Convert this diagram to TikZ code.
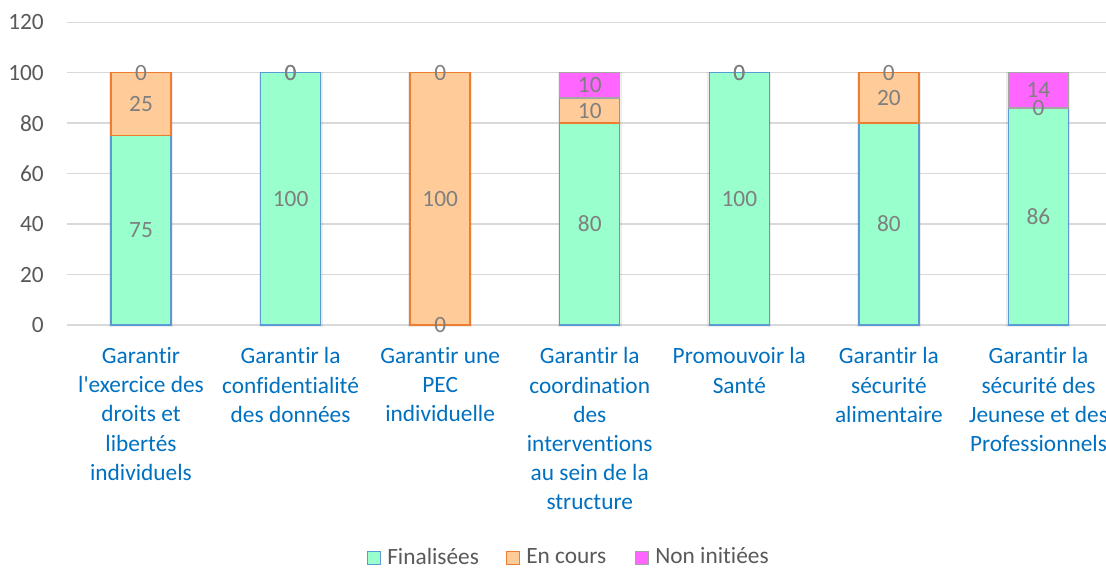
\documentclass[tikz,border=0pt]{standalone}
\usepackage{fontspec}
\setmainfont{Carlito}[Ligatures={TeXOff,CommonOff}]
\definecolor{gridc}{HTML}{D9D9D9}
\definecolor{axc}{HTML}{595959}
\definecolor{valc}{HTML}{7F7F7F}
\definecolor{catc}{HTML}{0070C0}
\definecolor{finF}{HTML}{99FFCC}
\definecolor{finD}{HTML}{5B9BD5}
\definecolor{encF}{HTML}{FFCC99}
\definecolor{encD}{HTML}{ED7D31}
\definecolor{nonF}{HTML}{FF66FF}
\definecolor{nonD}{HTML}{A5A5A5}
\tikzset{
  gridline/.style={draw=gridc, line width=1.1pt},
  axlabel/.style={text=axc, anchor=east, inner sep=0pt, font=\fontsize{17.5}{21}\selectfont},
  vallabel/.style={text=valc, inner sep=0pt, font=\fontsize{17.5}{21}\selectfont},
  catlabel/.style={text=catc, anchor=north, align=center, inner sep=0pt, font=\fontsize{17.5}{21.8}\selectfont},
  finbar/.style={fill=finF, draw=finD, line width=1pt},
  encbar/.style={fill=encF, draw=encD, line width=1pt},
  nonbar/.style={fill=nonF, draw=nonD, line width=1pt},
  legtext/.style={text=axc, anchor=west, inner sep=0pt, font=\fontsize{17.5}{21}\selectfont},
  legsq/.style={minimum size=9.5pt, inner sep=0pt, line width=0.9pt},
  barshadow/.style={fill=black, opacity=0.07},
}
\begin{document}
\begin{tikzpicture}[x=0.75pt,y=-0.75pt]
\useasboundingbox (0,0) rectangle (1106,570);
% grid and axis labels
\begin{scope}[shift={(0,325)}, y=1.89225pt]
\foreach \v in {0,20,...,120} {
  \draw[gridline] (67,\v) -- (1106,\v);
  \node[axlabel] (ax\v) at (44,\v) {\v};
}
\foreach \i/\f/\e/\n in {1/75/25/0, 2/100/0/0, 3/0/100/0, 4/80/10/10, 5/100/0/0, 6/80/20/0, 7/86/0/14} {
  \pgfmathsetmacro\cx{141+149.58*(\i-1)}
  \pgfmathsetmacro\fe{\f+\e}
  \pgfmathsetmacro\fen{\f+\e+\n}
  \fill[barshadow] (\cx-32,-0.9) rectangle (\cx+32,\fen+0.4);
  \ifnum\f>0 \draw[finbar] (\cx-30,0) rectangle (\cx+30,\f); \fi
  \ifnum\e>0 \draw[encbar] (\cx-30,\f) rectangle (\cx+30,\fe); \fi
  \ifnum\n>0 \draw[nonbar] (\cx-30,\fe) rectangle (\cx+30,\fen); \fi
  \node[vallabel] (vf\i) at (\cx,\f/2) {\f};
  \node[vallabel] (ve\i) at (\cx,\f+\e/2) {\e};
  \node[vallabel] (vn\i) at (\cx,\fe+\n/2) {\n};
}
\end{scope}
% category labels
\node[catlabel] (c1) at (141,347.5) {Garantir\\l'exercice des\\droits et\\libertés\\individuels};
\node[catlabel] (c2) at (290.58,347.5) {Garantir la\\confidentialité\\des données};
\node[catlabel] (c3) at (440.16,347.5) {Garantir une\\PEC\\individuelle};
\node[catlabel] (c4) at (589.74,347.5) {Garantir la\\coordination\\des\\interventions\\au sein de la\\structure};
\node[catlabel] (c5) at (739.32,347.5) {Promouvoir la\\Santé};
\node[catlabel] (c6) at (888.9,347.5) {Garantir la\\sécurité\\alimentaire};
\node[catlabel] (c7) at (1038.48,347.5) {Garantir la\\sécurité des\\Jeunese et des\\Professionnels};
% legend
\node[legsq, fill=finF, draw=finD] (lsq1) at (374,558) {};
\node[legtext] (lt1) at (387,556) {Finalisées};
\node[legsq, fill=encF, draw=encD] (lsq2) at (513,558) {};
\node[legtext] (lt2) at (526,556) {En cours};
\node[legsq, fill=nonF, draw=nonD] (lsq3) at (642,558) {};
\node[legtext] (lt3) at (655,556) {Non initiées};
\end{tikzpicture}
\end{document}
